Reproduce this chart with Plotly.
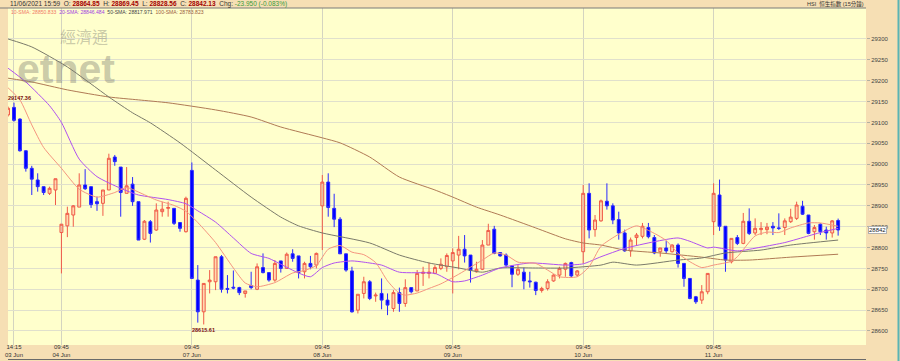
import plotly.graph_objects as go

# ---------------- data ----------------
bar_index = list(range(-1, 140))  # 15-minute bars, index 0 = 14:15 03 Jun

opens = [29118, 29136, 29108, 29032, 28990, 28962, 28946, 28930, 28938,
         28836, 28852, 28878, 28897, 28950, 28946, 28910, 28906, 28938, 29017, 28993, 28930, 28952,
         28910, 28820, 28862, 28842, 28886, 28894, 28894, 28860, 28838,
         28985, 28722, 28646, 28718, 28718, 28778, 28702, 28705, 28704, 28690, 28709, 28700, 28752,
         28740, 28722, 28768, 28750, 28785, 28780, 28742, 28762, 28758,
         28900, 28957, 28894, 28868, 28785, 28744, 28650, 28690, 28718, 28684, 28690, 28674, 28654,
         28692, 28666, 28704, 28696, 28738, 28738, 28738, 28750, 28754,
         28768, 28782, 28796, 28782, 28742, 28748, 28806, 28844, 28788, 28782, 28756, 28736, 28741,
         28720, 28717, 28697, 28702, 28720, 28734, 28748, 28764, 28734,
         28790, 28930, 28843, 28864, 28911, 28900, 28867, 28835, 28792, 28824, 28827, 28848, 28824,
         28790, 28799, 28790, 28806, 28762, 28726, 28682, 28674, 28694,
         28862, 28926, 28851, 28766, 28824, 28810, 28863, 28835, 28843, 28843, 28851, 28847, 28848,
         28862, 28870, 28899, 28878, 28838, 28856, 28842, 28835, 28864.85]
highs = [29138, 29147.36, 29110, 29033, 28996, 28978, 28946, 28946, 28965,
         28856, 28898, 28902, 28978, 28988, 28946, 28922, 28938, 29025, 29022, 28993, 28993, 28969,
         28910, 28866, 28866, 28906, 28910, 28910, 28894, 28860, 28922,
         29004, 28758, 28714, 28746, 28778, 28782, 28734, 28745, 28706, 28696, 28742, 28762, 28786,
         28740, 28770, 28768, 28788, 28796, 28780, 28766, 28780, 28788,
         28974, 28978, 28929, 28873, 28785, 28754, 28688, 28730, 28722, 28692, 28726, 28690, 28698,
         28704, 28724, 28704, 28746, 28754, 28764, 28758, 28774, 28786,
         28798, 28828, 28830, 28782, 28766, 28818, 28857, 28852, 28788, 28786, 28758, 28758, 28752,
         28742, 28718, 28706, 28724, 28736, 28754, 28764, 28766, 28746,
         28950, 28954, 28878, 28915, 28954, 28906, 28886, 28843, 28824, 28835, 28859, 28859, 28830,
         28799, 28816, 28808, 28810, 28762, 28726, 28684, 28710, 28738,
         28954, 28963, 28851, 28822, 28830, 28883, 28894, 28870, 28861, 28859, 28861, 28882, 28870,
         28893, 28910, 28912, 28878, 28854, 28858, 28850, 28866, 28869.45]
lows = [29114, 29102, 29030, 28982, 28926, 28934, 28926, 28926, 28902,
        28738, 28825, 28850, 28897, 28938, 28895, 28888, 28876, 28938, 28996, 28874, 28930, 28900,
        28818, 28818, 28812, 28840, 28874, 28874, 28854, 28838, 28836,
        28726, 28620, 28615.61, 28690, 28698, 28692, 28690, 28700, 28686, 28680, 28700, 28698, 28738,
        28718, 28718, 28740, 28750, 28766, 28726, 28726, 28748, 28750,
        28794, 28874, 28849, 28785, 28742, 28644, 28642, 28678, 28674, 28670, 28652, 28638, 28646,
        28646, 28658, 28690, 28696, 28708, 28726, 28736, 28746, 28742,
        28690, 28748, 28764, 28716, 28740, 28746, 28806, 28784, 28778, 28754, 28705, 28732, 28700,
        28704, 28686, 28692, 28697, 28718, 28726, 28730, 28728, 28730,
        28762, 28822, 28826, 28862, 28891, 28856, 28819, 28790, 28778, 28806, 28822, 28822, 28784,
        28778, 28786, 28788, 28752, 28706, 28676, 28665, 28665, 28688,
        28830, 28840, 28742, 28762, 28806, 28808, 28830, 28830, 28830, 28832, 28830, 28842, 28830,
        28859, 28866, 28878, 28832, 28819, 28830, 28819, 28824, 28828.56]
closes = [29134, 29105, 29032, 28990, 28964, 28946, 28932, 28942, 28965,
          28856, 28882, 28900, 28950, 28941, 28903, 28905, 28938, 29014, 29006, 28932, 28948, 28910,
          28818, 28863, 28834, 28890, 28892, 28896, 28858, 28846, 28918,
          28726, 28646, 28714, 28722, 28778, 28700, 28700, 28703, 28692, 28696, 28704, 28754, 28740,
          28722, 28762, 28750, 28784, 28774, 28740, 28762, 28754, 28786,
          28957, 28896, 28868, 28785, 28746, 28646, 28688, 28718, 28678, 28686, 28674, 28662, 28692,
          28666, 28704, 28694, 28738, 28741, 28741, 28752, 28760, 28781,
          28788, 28796, 28780, 28745, 28748, 28806, 28841, 28786, 28780, 28758, 28736, 28748, 28720,
          28718, 28697, 28702, 28718, 28734, 28750, 28762, 28732, 28744,
          28930, 28842, 28866, 28912, 28900, 28866, 28835, 28792, 28818, 28830, 28851, 28826, 28787,
          28799, 28792, 28806, 28762, 28726, 28678, 28670, 28694, 28738,
          28930, 28851, 28770, 28822, 28810, 28863, 28834, 28846, 28846, 28849, 28847, 28846, 28864,
          28873, 28902, 28880, 28834, 28848, 28838, 28835, 28864, 28842.13]

tick_index = [0, 8, 30, 52, 74, 96, 118]
tick_text = ["14:15<br>03 Jun", "09:45<br>04 Jun", "09:45<br>07 Jun", "09:45<br>08 Jun",
             "09:45<br>09 Jun", "09:45<br>10 Jun", "09:45<br>11 Jun"]
price_ticks = [28600, 28650, 28700, 28750, 28800, 28850, 28900, 28950,
               29000, 29050, 29100, 29150, 29200, 29250, 29300]

sma10_x = [-1, 1, 3, 5, 8, 11, 14, 17, 19, 21, 24, 27, 29, 31, 34, 37, 39, 41, 44, 47, 49, 51,
           53, 55, 57, 59, 61, 63, 65, 66, 68, 70, 72, 75, 77, 79, 81, 83, 85, 88, 90, 92, 95,
           97, 99, 102, 105, 108, 110, 112, 114, 116, 118, 121, 122, 125, 127, 129, 131, 134, 136, 139]
sma10_y = [29183, 29154, 29094, 29040, 28990, 28940, 28921, 28932, 28944, 28933, 28914, 28901,
           28887, 28860, 28812, 28751, 28715, 28706, 28716, 28739, 28745, 28757,
           28796, 28805, 28789, 28783, 28764, 28720, 28690, 28686, 28691, 28702, 28713, 28736,
           28753, 28770, 28787, 28782, 28765, 28762, 28746, 28730, 28730,
           28754, 28803, 28832, 28852, 28834, 28817, 28786, 28766, 28752, 28758, 28767, 28778,
           28828, 28837, 28836, 28847, 28859, 28859, 28851]

sma20_x = [-1, 2, 6, 8, 11, 14, 18, 21, 26, 29, 31, 34, 37, 40, 43, 45, 48, 50, 52, 54, 57, 59,
           62, 65, 71, 74, 76, 79, 82, 87, 93, 96, 99, 103, 108, 112, 114, 117, 118, 122, 126,
           130, 134, 136, 139]
sma20_y = [29230, 29197, 29140, 29100, 29012, 28970, 28942, 28926, 28915, 28905, 28888, 28861,
           28823, 28786, 28774, 28760, 28739, 28730, 28752, 28763, 28768, 28765,
           28758, 28741, 28738, 28718, 28720, 28734, 28751, 28763, 28758, 28761, 28778, 28798,
           28814, 28823, 28815, 28799, 28801, 28792, 28801, 28812, 28828, 28836, 28846]

sma50_x = [-1, 3, 9, 16, 20, 23, 28, 34, 40, 45, 48, 52, 60, 65, 70, 75, 79, 82, 88, 93, 99,
           101, 105, 112, 116, 120, 126, 131, 139]
sma50_y = [29300, 29281, 29233, 29161, 29123, 29099, 29051, 28986, 28921, 28873, 28852, 28835,
           28811, 28782, 28763, 28751, 28741, 28751, 28751, 28751, 28758, 28765, 28758, 28770,
           28775, 28787, 28794, 28806, 28818]

sma100_x = [-1, 3, 9, 16, 21, 26, 34, 40, 45, 52, 55, 60, 65, 71, 74, 78, 82, 88, 93, 96, 99,
            103, 109, 116, 120, 124, 131, 139]
sma100_y = [29206, 29197, 29178, 29161, 29154, 29147, 29130, 29113, 29089, 29063, 29051, 29017,
            28969, 28938, 28921, 28897, 28878, 28847, 28821, 28811, 28806, 28794, 28787, 28777,
            28770, 28770, 28777, 28784]

sma_names = ["10-SMA", "20-SMA", "50-SMA", "100-SMA"]
sma_last = ["28850.833", "28846.484", "28817.971", "28783.823"]
sma_colors = ["#f5957f", "#b050f0", "#7a7a6a", "#b07a55"]

stamp = "11/06/2021 15:59"
chg_text = "-23.950 (-0.083%)"
title_right = "HSI &nbsp;恒生指數 (15分鐘)"

# ---------------- figure ----------------
BG_PAPER = "#f6dfb4"
BG_PLOT = "#ffffcc"
FONT = "Liberation Sans Narrow, Liberation Sans, Arial, sans-serif"

fig = go.Figure()

for xs, ys, col in zip([sma100_x, sma50_x, sma20_x, sma10_x],
                       [sma100_y, sma50_y, sma20_y, sma10_y],
                       [sma_colors[3], sma_colors[2], sma_colors[1], sma_colors[0]]):
    fig.add_trace(go.Scatter(x=xs, y=ys, mode="lines",
                             line=dict(color=col, width=1, shape="spline", smoothing=0.6),
                             hoverinfo="skip"))

fig.add_trace(go.Candlestick(
    x=bar_index, open=opens, high=highs, low=lows, close=closes,
    increasing=dict(line=dict(color="#f05a48", width=1), fillcolor="rgba(255,150,120,0.35)"),
    decreasing=dict(line=dict(color="#2a2aff", width=1), fillcolor="#0000ff"),
    whiskerwidth=0, hoverinfo="skip"))

plot_w = 900 - 8 - 34
plot_h = 361 - 8 - 16


def px_x(p):
    return (p - 8) / plot_w


def px_y(p):
    return (345 - p) / plot_h


fig.update_layout(
    width=900, height=361,
    margin=dict(l=8, r=34, t=8, b=16, pad=0, autoexpand=False),
    paper_bgcolor=BG_PAPER, plot_bgcolor=BG_PLOT,
    showlegend=False,
    font=dict(family=FONT, size=6, color="#333333"),
)
fig.update_xaxes(
    range=[-1.01, 143.7], tickmode="array", tickvals=tick_index, ticktext=tick_text,
    showgrid=True, gridcolor="#d4d4c0", gridwidth=1, zeroline=False, showline=False,
    ticks="", rangeslider=dict(visible=False), tickfont=dict(size=6, color="#333333"),
    ticklabelstandoff=-3, automargin=False, fixedrange=True)
fig.update_yaxes(
    side="right", range=[28566.4, 29374.3], tickmode="array", tickvals=price_ticks,
    ticktext=[str(v) for v in price_ticks],
    showgrid=True, gridcolor="#e0e0cc", gridwidth=1, zeroline=False, showline=False,
    ticks="outside", ticklen=3, tickcolor="#b0b0a0", tickfont=dict(size=6, color="#444444"),
    automargin=False, fixedrange=True)

red = "#a00000"
header = (f"<span style='color:#333'>{stamp}</span>&nbsp; "
          f"O: <b><span style='color:{red}'>{opens[-1]:.2f}</span></b>&nbsp; "
          f"H: <b><span style='color:{red}'>{highs[-1]:.2f}</span></b>&nbsp; "
          f"L: <b><span style='color:{red}'>{lows[-1]:.2f}</span></b>&nbsp; "
          f"C: <b><span style='color:{red}'>{closes[-1]:.2f}</span></b>&nbsp; "
          f"Chg: <span style='color:#3a9a3a'>{chg_text}</span>")
legend_txt = "&nbsp; ".join(
    f"<span style='color:{c}'>{n}: {v}</span>" for n, v, c in
    zip(sma_names, sma_last, ["#f07a66", "#a040e0", "#444444", "#9a6040"]))

hi_i = highs.index(max(highs))
lo_i = lows.index(min(lows))

annotations = [
    # watermark
    dict(text="經濟通", xref="paper", yref="paper", x=px_x(84), y=px_y(35.5), showarrow=False,
         font=dict(family="Noto Sans CJK TC", size=16, color="rgba(120,120,110,0.40)"),
         xanchor="center", yanchor="middle"),
    dict(text="<b>etnet</b>", xref="paper", yref="paper", x=px_x(66), y=px_y(94), showarrow=False,
         font=dict(family="Liberation Sans, Arial", size=41, color="rgba(120,120,110,0.40)"),
         xanchor="center", yanchor="bottom"),
    # header
    dict(text=header, xref="paper", yref="paper", x=px_x(8), y=px_y(4), showarrow=False,
         xanchor="left", yanchor="middle", font=dict(family=FONT, size=6.5, color="#333333")),
    dict(text=title_right, xref="paper", yref="paper", x=px_x(866), y=px_y(4), showarrow=False,
         xanchor="right", yanchor="middle",
         font=dict(family="Liberation Sans, Noto Sans CJK TC", size=5.5, color="#333333")),
    dict(text=legend_txt, xref="paper", yref="paper", x=px_x(9), y=px_y(12), showarrow=False,
         xanchor="left", yanchor="middle", font=dict(family=FONT, size=5.1)),
    # extreme labels
    dict(text=f"<b>{max(highs):.2f}</b>", x=bar_index[hi_i], y=max(highs), showarrow=False,
         xanchor="center", yanchor="bottom", xshift=6, yshift=0,
         font=dict(family=FONT, size=5.5, color="#7a1010")),
    dict(text=f"<b>{min(lows):.2f}</b>", x=bar_index[lo_i], y=min(lows), showarrow=False,
         xanchor="center", yanchor="top", yshift=-1,
         font=dict(family=FONT, size=5.5, color="#7a1010")),
    # last price box
    dict(text=f"{closes[-1]:.0f}", xref="paper", x=1, y=closes[-1], showarrow=False,
         xanchor="left", yanchor="middle", xshift=2, bgcolor="#ffffff", bordercolor="#b0b0b0",
         borderwidth=1, borderpad=0, font=dict(family=FONT, size=6, color="#222222")),
]
fig.update_layout(annotations=annotations)

shapes = [
    dict(type="line", xref="paper", yref="paper", x0=px_x(0), x1=px_x(866), y0=px_y(8), y1=px_y(8),
         line=dict(color="#7a7a7a", width=1)),
    dict(type="line", xref="paper", yref="paper", x0=px_x(8), x1=px_x(866), y0=px_y(359.5),
         y1=px_y(359.5), line=dict(color="#6a6a6a", width=1)),
    dict(type="line", xref="paper", yref="paper", x0=px_x(898.5), x1=px_x(898.5), y0=px_y(361),
         y1=px_y(0), line=dict(color="#5ab4b4", width=2)),
]
fig.update_layout(shapes=shapes)

fig.write_html("out.html", config={"displayModeBar": False, "staticPlot": True})
